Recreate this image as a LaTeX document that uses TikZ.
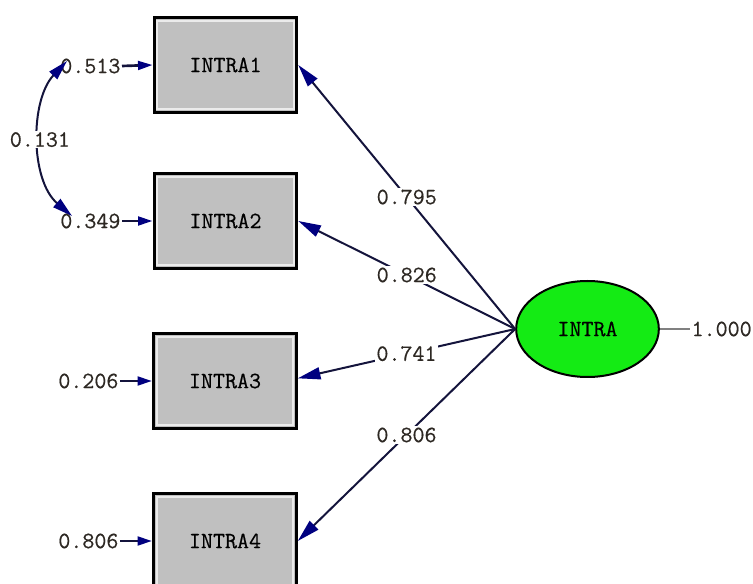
\documentclass[tikz,border=0pt]{standalone}
\usepackage{fontspec}
\setmonofont{Latin Modern Mono}[FakeBold=0.5]
\usetikzlibrary{arrows.meta,shapes.geometric}
\definecolor{navyc}{RGB}{0,0,128}
\definecolor{linec}{RGB}{20,20,60}
\definecolor{boxg}{RGB}{192,192,192}
\definecolor{latg}{RGB}{20,235,20}
\definecolor{txtc}{RGB}{45,40,35}
\begin{document}
\begin{tikzpicture}[x=0.75pt,y=-0.75pt,
  font=\fontsize{17.5}{20}\selectfont\ttfamily,
  obs/.style={draw=black, line width=2.2pt, fill=boxg, minimum width=107pt, minimum height=71pt, inner sep=0pt, text=black,
    path picture={\draw[white!92!black, line width=1.4pt] ([xshift=2.4pt,yshift=-2.4pt]path picture bounding box.north west) rectangle ([xshift=-2.4pt,yshift=2.4pt]path picture bounding box.south east);}},
  lat/.style={ellipse, draw=black, line width=1.5pt, fill=latg, minimum width=107pt, minimum height=72pt, inner sep=0pt, text=black},
  load/.style={draw=linec, line width=1.5pt, -{Triangle[length=17pt,width=9pt,color=navyc]}},
  errarr/.style={draw=linec, line width=2pt, -{Triangle[length=11pt,width=6.5pt,color=navyc]}},
  covarr/.style={draw=linec, line width=1.5pt, {Triangle[length=15pt,width=8pt,color=navyc]}-{Triangle[length=15pt,width=8pt,color=navyc]}},
  lbl/.style={fill=white, inner sep=1pt, text=txtc}]
\useasboundingbox (0,0) rectangle (753,584);
\node[obs] (b1) at (225.5,65) {INTRA1};
\node[obs] (b2) at (225.5,221) {INTRA2};
\node[obs] (b3) at (225,381) {INTRA3};
\node[obs] (b4) at (225,541) {INTRA4};
\node[lat] (el) at (587.5,329) {INTRA};
\node[lbl, anchor=east] (e1) at (122,66) {0.513};
\node[lbl, anchor=east] (e2) at (122,221) {0.349};
\node[lbl, anchor=east] (e3) at (120,381) {0.206};
\node[lbl, anchor=east] (e4) at (120,541) {0.806};
\node[lbl, anchor=west] (r) at (690,329) {1.000};
\draw[errarr] (e1.east) -- (b1.west);
\draw[errarr] (e2.east) -- (b2.west);
\draw[errarr] (e3.east) -- (b3.west);
\draw[errarr] (e4.east) -- (b4.west);
\draw[gray, line width=1.4pt] (el.east) -- (r.west);
\coordinate (c1) at (67,61);
\coordinate (c2) at (72,216);
\draw[covarr] (c1) .. controls (30,100) and (30,180) .. node[lbl, pos=0.5] {0.131} (c2);
\draw[load] (el.west) -- node[lbl]{0.795} (b1.east);
\draw[load] (el.west) -- node[lbl]{0.826} (b2.east);
\draw[load] (el.west) -- node[lbl]{0.741} ([yshift=2pt]b3.east);
\draw[load] (el.west) -- node[lbl]{0.806} (b4.east);
\end{tikzpicture}
\end{document}
